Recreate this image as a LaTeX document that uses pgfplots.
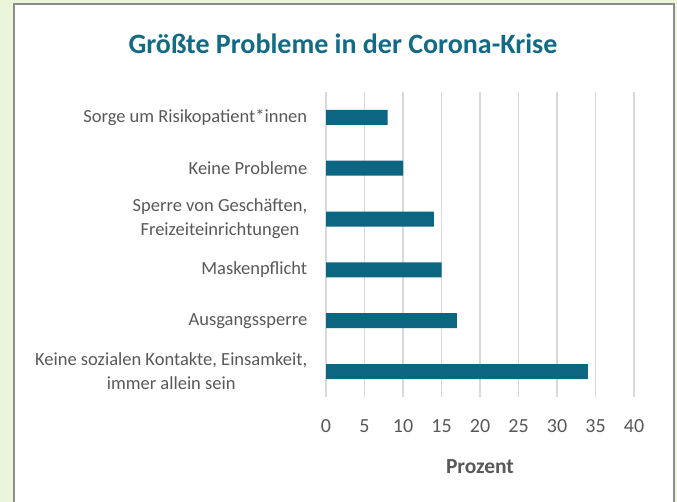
\documentclass[border=0pt]{standalone}
\usepackage{pgfplots}
\pgfplotsset{compat=1.18}
\usepackage{fontspec}
\setmainfont{Carlito}
\definecolor{barteal}{HTML}{0B6682}
\definecolor{titleteal}{HTML}{136A84}
\definecolor{txtgray}{HTML}{595959}
\definecolor{gridgray}{HTML}{D9D9D9}
\definecolor{bggreen}{HTML}{EBF5DA}
\definecolor{framegray}{HTML}{8C8C8C}
\begin{document}
\begin{tikzpicture}[x=1pt,y=1pt]
\clip (0,0) rectangle (677,502);
\fill[bggreen] (0,0) rectangle (677,502);
\filldraw[fill=white, draw=framegray, line width=1.5pt] (14,-10) rectangle (674,498);
\node[text=titleteal, font=\bfseries\fontsize{28}{32}\selectfont] at (343,458) {Größte Probleme in der Corona-Krise};
\begin{axis}[
    at={(326pt,105pt)}, anchor=south west,
    scale only axis, width=308pt, height=305pt,
    xbar, bar width=15pt,
    xmin=0, xmax=40, ymin=-0.5, ymax=5.5,
    xtick={0,5,...,40},
    ytick={0,1,2,3,4,5},
    yticklabels={{Keine sozialen Kontakte, Einsamkeit,\\immer allein sein},
                 Ausgangssperre, Maskenpflicht,
                 {Sperre von Geschäften,\\Freizeiteinrichtungen\ },
                 Keine Probleme, Sorge um Risikopatient*innen},
    axis line style={draw=none},
    major tick style={draw=none},
    xmajorgrids,
    grid style={gridgray, line width=1.3pt},
    /pgf/number format/assume math mode=true,
    xticklabel style={font=\fontsize{20}{22}\selectfont, text=txtgray, anchor=center, yshift=-29pt},
    yticklabel style={font=\fontsize{18.5}{24}\selectfont, text=txtgray, align=center, anchor=east, xshift=-11pt},
    xlabel={Prozent},
    xlabel style={at={(axis description cs:0.5,0)}, anchor=center, yshift=-70pt, font=\bfseries\fontsize{21.5}{24}\selectfont, text=txtgray},
]
\addplot[fill=barteal, draw=none] coordinates {(34,0) (17,1) (15,2) (14,3) (10,4) (8,5)};
\end{axis}
\end{tikzpicture}
\end{document}
